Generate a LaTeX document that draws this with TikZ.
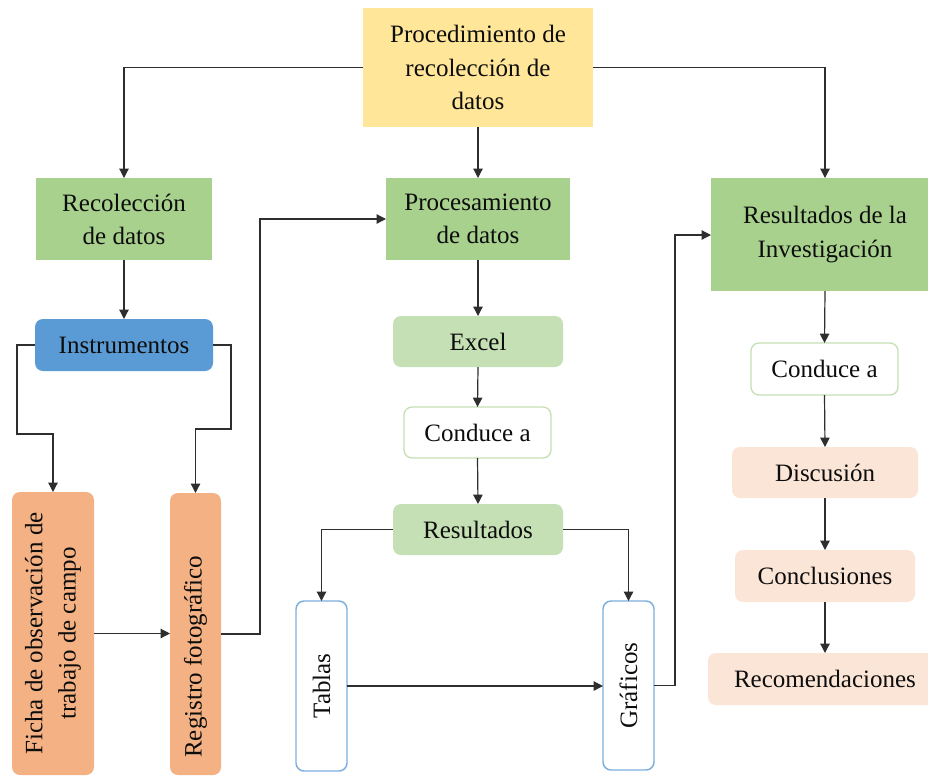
\documentclass[tikz,border=0pt]{standalone}
\usepackage{fontspec}
\setmainfont{Liberation Serif}
\usetikzlibrary{arrows.meta}
\definecolor{cyellow}{HTML}{FFE699}
\definecolor{cgreen}{HTML}{A9D18E}
\definecolor{clgreen}{HTML}{C5E0B4}
\definecolor{cblue}{HTML}{5B9BD5}
\definecolor{corange}{HTML}{F4B183}
\definecolor{cpeach}{HTML}{FBE5D6}
\definecolor{cline}{HTML}{2E2E2E}
\definecolor{ctext}{HTML}{0D0D0D}
\newcommand{\dfont}{\fontsize{18.75pt}{24.8pt}\selectfont}
% \bx{name}{x1}{y1}{x2}{y2}{style}{text}
\newcommand{\bx}[7]{\node[#6, minimum width={(#4-#2)*0.75}, minimum height={(#5-#3)*0.75}] (#1) at ({(#2+#4)/2},{(#3+#5)/2}) {#7};}
\begin{document}
\begin{tikzpicture}[x=0.75pt,y=-0.75pt,
  box/.style={inner sep=0pt, outer sep=0pt, align=center, font=\dfont, text=ctext},
  sq/.style={box},
  rnd/.style={box, rounded corners=6pt},
  outl/.style={rnd, fill=white, draw=clgreen, line width=1pt},
  vbox/.style={rnd, fill=white, draw=cblue!80, line width=1.1pt},
  vlab/.style={label={[rotate=90, align=center, font=\dfont, text=ctext]center:#1}},
  vlabd/.style={label={[yshift=-17pt, rotate=90, align=center, font=\dfont, text=ctext]center:#1}},
  arr/.style={draw=cline, line width=0.9pt, -{Triangle[length=7pt,width=7pt]}}
]
\clip (0,0) rectangle (928,776);
\fill[white] (0,0) rectangle (928,776);

% top
\bx{top}{363}{8}{593}{127}{sq, fill=cyellow}{Procedimiento de\\recolección de\\datos}

% level 2
\bx{rec}{36}{178}{212}{260}{sq, fill=cgreen}{Recolección\\de datos}
\bx{proc}{386}{178}{570}{260}{sq, fill=cgreen}{Procesamiento\\de datos}
\bx{resinv}{711}{178}{939}{291}{sq, fill=cgreen}{Resultados de la\\Investigación}

% left column
\bx{inst}{35}{319}{213}{371}{rnd, fill=cblue}{Instrumentos}
\bx{ficha}{12}{492}{94}{775}{rnd, fill=corange, vlab={Ficha de observación de\\trabajo de campo}}{}
\bx{reg}{170}{493}{221}{775}{rnd, fill=corange, vlabd={Registro fotográfico}}{}

% middle column
\bx{excel}{393}{316}{563}{367}{rnd, fill=clgreen}{Excel}
\bx{cond1}{404}{407}{551}{458}{outl}{Conduce a}
\bx{res}{393}{504}{563}{555}{rnd, fill=clgreen}{Resultados}
\bx{tab}{296}{601}{347}{771}{vbox, vlab={Tablas}}{}
\bx{graf}{603}{601}{654}{770}{vbox, vlab={Gráficos}}{}

% right column
\bx{cond2}{751}{343}{898}{395}{outl}{Conduce a}
\bx{disc}{732}{447}{918}{498}{rnd, fill=cpeach}{Discusión}
\bx{concl}{735}{550}{915}{602}{rnd, fill=cpeach}{Conclusiones}
\bx{recom}{708}{653}{942}{705}{rnd, fill=cpeach}{Recomendaciones}

% bend points
\coordinate (c1) at (17,434);
\coordinate (c2) at (231,429);
\coordinate (c3) at (260,219);
\coordinate (c4) at (675,235);

% connectors
\draw[arr] (top.west) -| (rec.north);
\draw[arr] (top.east) -| (resinv.north);
\draw[arr] (top.south) -- (proc.north);

\draw[arr] (rec.south) -- (inst.north);
\draw[arr] (inst.west) -| (c1) -| (ficha.north);
\draw[arr] (inst.east) -| (c2) -| (reg.north);
\draw[arr] (ficha.east) -- (ficha.east -| reg.west);
\draw[arr] (reg.east) -| (c3) -- (proc.west);

\draw[arr] (proc.south) -- (excel.north);
\draw[arr] (excel.south) -- (cond1.north);
\draw[arr] (cond1.south) -- (res.north);
\draw[arr] (res.west) -| (tab.north);
\draw[arr] (res.east) -| (graf.north);
\draw[arr] (tab.east) -- (tab.east -| graf.west);
\draw[arr] (graf.east) -| (c4) -- (resinv.west |- c4);

\draw[arr] (resinv.south) -- (cond2.north);
\draw[arr] (cond2.south) -- (disc.north);
\draw[arr] (disc.south) -- (concl.north);
\draw[arr] (concl.south) -- (recom.north);
\end{tikzpicture}
\end{document}
